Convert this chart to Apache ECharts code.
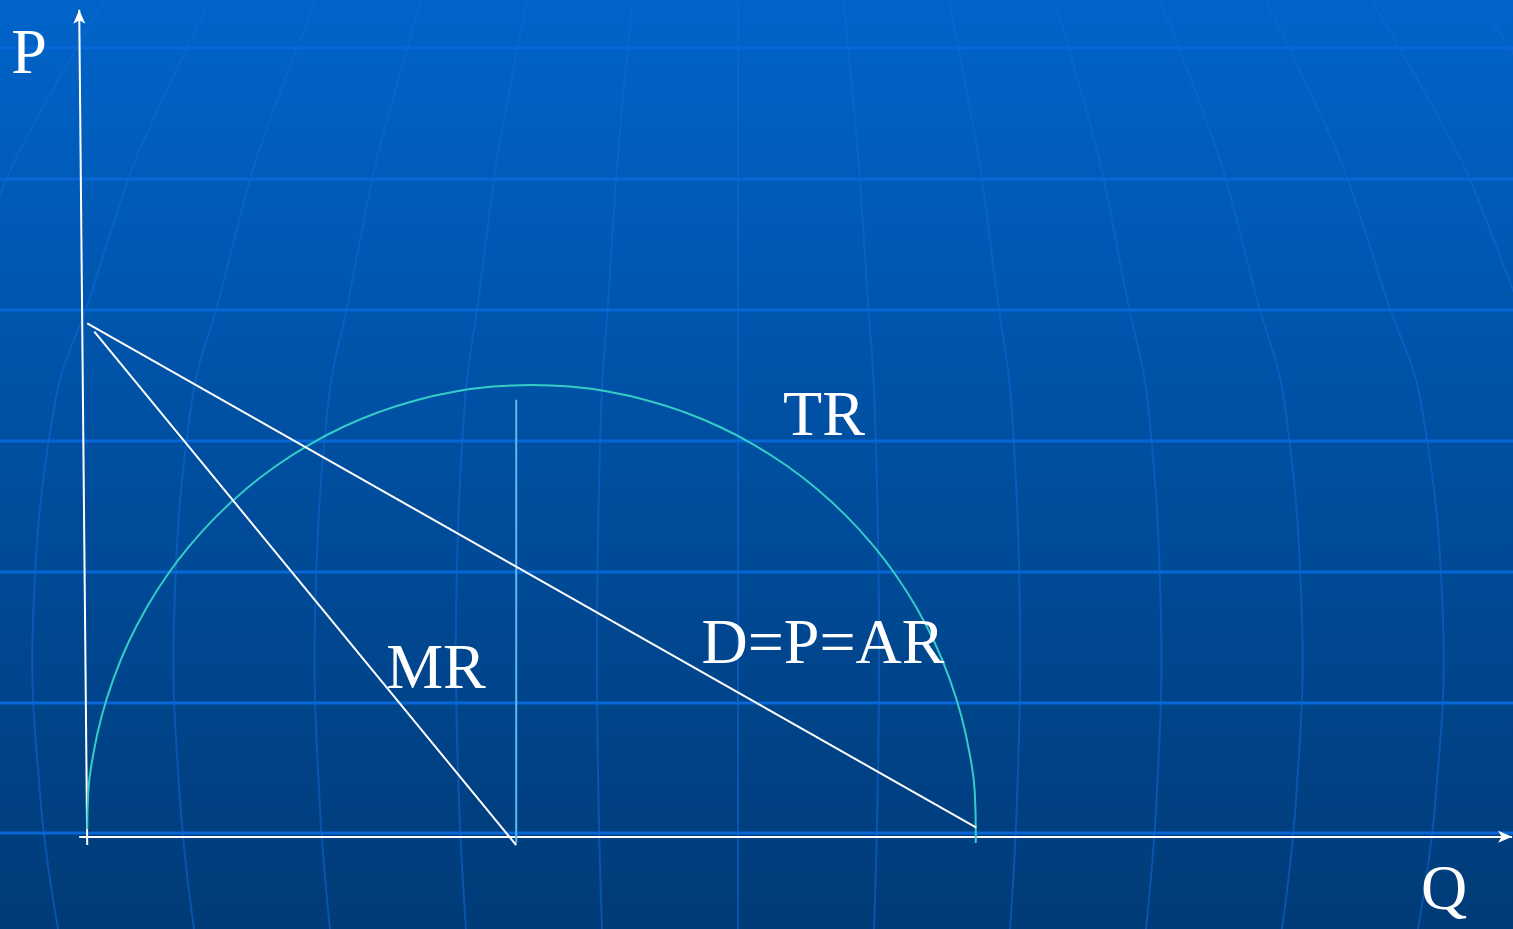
<!DOCTYPE html>
<html>
<head>
<meta charset="utf-8">
<title>TR MR AR</title>
<script src="https://cdn.jsdelivr.net/npm/echarts@6/dist/echarts.min.js"></script>
<style>
    html, body { margin: 0; padding: 0; overflow: hidden; }
    #chart { width: 1513px; height: 929px; }
</style>
</head>
<body>
<div id="chart"></div>
<script>
// axis ranges (Q across, P up)
const qMin = -0.98, qMax = 16.02
const pMin = -1.8, pMax = 16.35

// data, [Q, P]
const yAxisLine = [[0, -0.16], [-0.09, 16.16]]
const xAxisLine = [[-0.09, 0], [16.01, 0]]
const demandLine = [[0, 10.03], [9.99, 0.18]]
const mrLine = [[0.08, 9.87], [4.82, -0.16]]
const dropLine = [[4.82, 8.54], [4.82, -0.12]]
const trCurve = [
    [0, 0.15], [0.011, 0.857], [0.068, 1.613], [0.162, 2.357], [0.294, 3.083],
    [0.46, 3.787], [0.662, 4.463], [0.896, 5.106], [1.162, 5.71], [1.456, 6.272],
    [1.778, 6.787], [2.124, 7.25], [2.492, 7.66], [2.879, 8.012], [3.282, 8.303],
    [3.698, 8.532], [4.124, 8.697], [4.556, 8.797], [4.992, 8.83], [5.428, 8.797],
    [5.86, 8.697], [6.286, 8.532], [6.702, 8.303], [7.105, 8.012], [7.492, 7.66],
    [7.86, 7.25], [8.206, 6.787], [8.528, 6.272], [8.822, 5.71], [9.088, 5.106],
    [9.322, 4.463], [9.524, 3.787], [9.69, 3.083], [9.822, 2.357], [9.916, 1.613],
    [9.973, 0.857], [9.984, 0.096], [9.984, -0.12]
]

// texts
const labelP = 'P'
const labelQ = 'Q'
const labelTR = 'TR'
const labelD = 'D=P=AR'
const labelMR = 'MR'

// background globe grid
const rowLines = [48, 179, 310, 441, 572, 703, 833]
const meridianY = [0, 120, 177, 300, 400, 620, 800, 929]
const meridianStep = [105.6, 117, 121.8, 129.8, 136.5, 141, 139.5, 136]
const meridianCenter = 738

const W = 1513, H = 929
const chart = echarts.init(document.getElementById('chart'), null, { renderer: 'canvas' })

const bgElements = [{
    type: 'rect',
    shape: { x: 0, y: 0, width: W, height: H },
    style: {
        fill: new echarts.graphic.LinearGradient(0, 0, 0, 1, [
            { offset: 0, color: '#0064C9' },
            { offset: 0.5, color: '#004E9F' },
            { offset: 1, color: '#003B77' }
        ])
    },
    z: -10
}]
rowLines.forEach(y => {
    bgElements.push({
        type: 'line',
        shape: { x1: 0, y1: y, x2: W, y2: y },
        style: { stroke: '#0867D6', lineWidth: 3 },
        z: -9
    })
})
for (let k = -7; k <= 7; k++) {
    const pts = meridianY.map((y, i) => [meridianCenter + k * meridianStep[i], y])
    bgElements.push({
        type: 'polyline',
        shape: { points: pts, smooth: 0.4 },
        style: { stroke: 'rgba(16,104,214,0.55)', lineWidth: 2, fill: null },
        z: -9
    })
}

function textEl(str, x, y) {
    return {
        type: 'text',
        x: x, y: y,
        style: {
            text: str,
            fill: '#ffffff',
            fontFamily: 'Liberation Serif',
            fontSize: 64,
            align: 'center',
            verticalAlign: 'middle'
        },
        z: 10
    }
}

function plainLine(points, color) {
    return {
        type: 'line',
        data: points,
        symbol: 'none',
        lineStyle: { color: color, width: 2 },
        silent: true,
        animation: false,
        z: 5
    }
}

function arrowAxis(points) {
    return {
        type: 'line',
        data: [],
        silent: true,
        animation: false,
        markLine: {
            silent: true,
            animation: false,
            symbol: ['none', 'arrow'],
            symbolSize: [9, 14],
            label: { show: false },
            lineStyle: { color: '#ffffff', width: 2, type: 'solid' },
            emphasis: { disabled: true },
            data: [[{ coord: points[0] }, { coord: points[1] }]]
        },
        z: 6
    }
}

const option = {
    backgroundColor: 'transparent',
    grid: { left: 0, right: 0, top: 0, bottom: 0 },
    xAxis: { type: 'value', min: qMin, max: qMax, show: false },
    yAxis: { type: 'value', min: pMin, max: pMax, show: false },
    graphic: {
        elements: bgElements.concat([
            textEl(labelP, 29, 56.5),
            textEl(labelQ, 1444, 892.5),
            textEl(labelTR, 824, 418.5),
            textEl(labelD, 823, 646.5),
            textEl(labelMR, 436, 671.5)
        ])
    },
    series: [
        Object.assign(plainLine(trCurve, '#35CCC8'), { smooth: 0.5 }),
        plainLine(dropLine, '#5DB8F2'),
        plainLine(demandLine, '#ffffff'),
        plainLine(mrLine, '#ffffff'),
        arrowAxis(yAxisLine),
        arrowAxis(xAxisLine)
    ]
}
chart.setOption(option)
</script>
</body>
</html>
